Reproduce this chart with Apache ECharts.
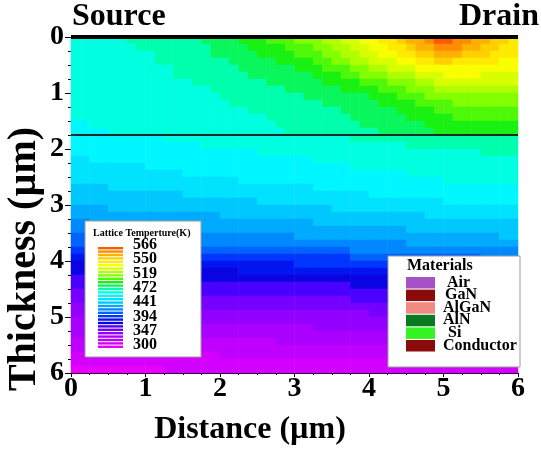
<!DOCTYPE html>
<html><head><meta charset="utf-8">
<script src="https://cdn.jsdelivr.net/npm/echarts@6/dist/echarts.min.js"></script>
<style>html,body{margin:0;padding:0;background:#fff}#chart{width:541px;height:454px}</style>
</head><body><div id="chart"></div>
<script>
// ---- GaN layer (0 – 1.75 µm): fine mesh, cell centres in µm ----
const layerDistance = [0.0625,0.1875,0.3125,0.4375,0.5625,0.6875,0.8125,0.9375,1.0625,1.1875,1.3125,1.4375,
  1.5625,1.6875,1.8125,1.9375,2.0625,2.1875,2.3125,2.4375,2.5625,2.6875,2.8125,2.9375,
  3.0625,3.1875,3.3125,3.4375,3.5625,3.6875,3.8125,3.9375,4.0625,4.1875,4.3125,4.4375,
  4.5625,4.6875,4.8125,4.9375,5.0625,5.1875,5.3125,5.4375,5.5625,5.6875,5.8125,5.9375];
const layerThickness = [0.0625,0.1875,0.3125,0.4375,0.5625,0.6875,0.8125,0.9375,1.0625,1.1875,1.3125,1.4375,1.5625,1.6875];
// Lattice temperature (K) in the GaN layer, one row per thickness
const layerTemp = [
  [447,447,448,448,449,450,451,452,452,454,454,456,457,459,461,463,465,467,470,472,475,478,480,484,487,491,495,499,503,507,512,516,520,524,528,532,543,548,554,561,562,557,551,546,541,537,533,529],
  [447,447,448,448,449,449,450,451,451,453,453,455,456,458,459,461,463,465,467,469,472,474,477,480,482,486,490,494,499,503,508,512,516,520,524,528,533,541,547,553,554,549,545,541,537,533,530,526],
  [446,446,447,447,448,448,449,450,450,452,452,454,455,457,458,460,461,463,465,467,469,471,473,476,478,482,485,489,494,498,502,506,511,515,518,522,526,531,538,543,543,540,536,533,531,529,526,524],
  [446,446,447,447,448,448,449,449,450,451,451,453,453,455,456,458,459,461,462,464,465,467,469,471,474,477,480,484,488,492,496,500,504,508,511,515,518,522,526,532,532,529,527,526,525,523,521,519],
  [445,445,446,446,447,447,448,448,449,450,450,452,452,454,454,456,457,459,460,462,462,464,465,467,470,473,476,479,482,486,490,494,497,501,504,508,510,514,517,520,520,521,520,520,518,517,516,514],
  [445,445,446,446,447,447,447,447,448,449,449,451,451,453,453,455,455,457,458,460,460,462,462,464,466,468,471,474,476,480,483,487,489,493,496,500,503,507,509,512,513,514,513,513,512,512,510,510],
  [444,444,445,445,446,446,447,447,447,448,448,449,450,451,451,453,453,455,456,458,458,460,460,462,463,465,467,469,472,474,477,480,482,486,489,492,495,498,501,504,505,506,507,507,506,506,505,505],
  [444,444,445,445,446,446,446,446,447,447,448,448,449,450,450,452,452,454,454,456,456,458,458,460,461,463,464,466,467,469,471,473,476,478,481,485,488,492,494,497,498,499,500,500,501,501,500,500],
  [443,443,444,444,445,445,445,445,446,446,447,447,448,449,449,450,451,452,452,454,454,456,456,458,458,460,461,463,464,466,466,468,470,472,476,478,481,484,488,490,492,493,494,494,495,495,495,495],
  [443,443,443,443,444,444,444,444,445,445,446,446,447,447,448,449,449,451,451,453,453,454,455,456,456,458,459,461,461,463,463,465,467,469,471,474,476,479,482,484,486,488,488,489,490,490,490,490],
  [442,442,443,443,443,443,444,444,444,444,445,445,446,446,447,447,448,449,449,451,451,453,453,455,455,457,457,459,459,461,461,463,464,466,468,470,472,474,477,479,481,483,483,484,485,485,486,486],
  [442,442,442,442,443,443,443,443,444,444,444,444,445,445,446,446,447,448,448,450,450,451,452,453,453,455,456,458,458,459,460,461,462,464,465,467,469,471,473,475,476,478,478,480,480,481,481,481],
  [441,441,442,442,442,442,443,443,443,443,444,444,444,444,445,446,446,448,448,449,450,450,451,452,452,454,454,456,456,458,458,460,460,462,463,465,466,468,470,472,473,475,476,476,477,477,477,477],
  [441,441,441,441,442,442,442,442,443,443,443,443,444,444,445,445,446,447,448,448,449,449,450,451,452,453,454,455,456,456,457,458,459,460,461,463,464,466,467,469,470,472,473,473,474,474,475,475]
];

// ---- Si substrate (1.75 – 6 µm): cell centres in µm ----
const substrateDistance = [0.125,0.375,0.625,0.875,1.125,1.375,1.625,1.875,2.125,2.375,2.625,2.875,
  3.125,3.375,3.625,3.875,4.125,4.375,4.625,4.875,5.125,5.375,5.625,5.875];
const substrateThickness = [1.8125,1.9375,2.0625,2.1875,2.3125,2.4375,2.5625,2.6875,2.8125,2.9375,
  3.0625,3.1875,3.3125,3.4375,3.5625,3.6875,3.8125,3.9375,4.0625,4.1875,4.3125,4.4375,
  4.5625,4.6875,4.8125,4.9375,5.0625,5.1875,5.3125,5.4375,5.5625,5.6875,5.8125,5.9375];
// Lattice temperature (K) in the substrate, one row per thickness
const substrateTemp = [
  [438,439,440,441,441,442,443,444,445,446,447,448,448,449,450,451,452,453,454,455,455,456,457,458],
  [436,437,438,438,439,440,441,442,443,443,444,445,446,447,448,448,449,450,451,452,453,453,454,455],
  [434,435,436,436,437,438,439,439,440,441,442,443,443,444,445,446,447,447,448,449,450,450,451,452],
  [432,433,434,434,435,436,437,437,438,439,440,441,441,442,443,444,445,445,446,447,448,448,449,450],
  [430,431,432,432,433,434,435,435,436,437,438,439,439,440,441,442,443,443,444,445,446,446,447,448],
  [428,429,430,430,431,432,433,433,434,435,436,437,437,438,439,440,441,441,442,443,444,444,445,446],
  [426,427,428,428,429,430,431,431,432,433,434,435,435,436,437,438,439,439,440,441,442,442,443,444],
  [423,424,425,425,426,427,428,428,429,430,431,432,432,433,434,435,436,436,437,438,439,439,440,441],
  [420,421,422,422,423,424,425,425,426,427,428,429,429,430,431,432,433,433,434,435,436,436,437,438],
  [417,418,419,419,420,421,422,422,423,424,425,426,426,427,428,429,430,430,431,432,433,433,434,435],
  [414,415,416,416,417,418,419,419,420,421,422,423,423,424,425,426,427,427,428,429,430,430,431,432],
  [410,411,412,412,413,414,415,415,416,417,418,419,419,420,421,422,423,423,424,425,426,426,427,428],
  [406,407,408,408,409,410,411,411,412,413,414,415,415,416,417,418,419,419,420,421,422,422,423,424],
  [401,402,403,403,404,405,406,407,408,408,409,410,411,412,413,413,414,415,416,417,418,418,419,420],
  [397,398,399,399,400,401,402,403,404,404,405,406,407,408,409,409,410,411,412,413,414,414,415,416],
  [392,393,394,394,395,396,397,398,399,399,400,401,402,403,404,404,405,406,407,408,409,409,410,411],
  [384,385,386,387,388,389,390,391,392,393,394,395,395,396,397,398,399,400,401,402,402,403,404,405],
  [372,373,374,375,376,378,380,381,382,383,384,385,386,387,388,389,390,392,394,395,396,397,398,399],
  [367,368,369,370,371,372,373,374,375,376,377,378,380,381,382,384,385,386,387,388,389,390,391,392],
  [363,364,365,366,366,367,368,369,370,371,372,373,373,374,375,376,377,378,379,380,381,382,383,384],
  [359,360,360,361,361,362,363,363,364,364,365,366,366,367,368,368,369,370,371,372,372,373,373,374],
  [355,356,356,357,357,358,358,359,359,360,360,361,361,362,362,363,363,364,364,365,365,366,366,367],
  [351,351,352,352,353,353,354,354,355,355,356,356,357,357,358,358,359,359,360,360,361,361,362,362],
  [347,347,348,348,349,349,350,350,350,351,351,352,352,353,353,354,354,354,355,355,356,356,357,357],
  [343,343,344,344,345,345,345,346,346,347,347,347,348,348,348,349,349,350,350,350,351,351,352,352],
  [339,339,340,340,340,341,341,341,342,342,342,343,343,344,344,344,345,345,345,346,346,346,347,347],
  [335,335,336,336,336,337,337,337,338,338,338,339,339,340,340,340,341,341,341,342,342,342,343,343],
  [331,331,332,332,332,333,333,333,334,334,334,335,335,336,336,336,337,337,337,338,338,338,339,339],
  [327,327,328,328,328,329,329,329,330,330,330,331,331,332,332,332,333,333,333,334,334,334,335,335],
  [323,323,324,324,324,325,325,325,326,326,326,327,327,328,328,328,329,329,329,330,330,330,331,331],
  [319,319,320,320,320,321,321,321,322,322,322,323,323,324,324,324,325,325,325,326,326,326,327,327],
  [315,315,316,316,316,317,317,317,318,318,318,319,319,320,320,320,321,321,321,322,322,322,323,323],
  [311,311,312,312,312,313,313,313,314,314,314,315,315,316,316,316,317,317,317,318,318,318,319,319],
  [307,307,308,308,308,309,309,309,310,310,310,311,311,312,312,312,313,313,313,314,314,314,315,315]
];

const tempTicks = [566, 550, 519, 472, 441, 394, 347, 300];
const tempMin = 300, tempMax = 566, bandCount = 30;

const materials = ['Air', 'GaN', 'AlGaN', 'AlN', 'Si', 'Conductor'];
const materialColors = ['#a652c6', '#8b0a0a', '#f28a84', '#0a7a22', '#33f522', '#8b0a0a'];

const surfaceDepth = 0;      // top contact line
const interfaceDepth = 1.75; // GaN / Si interface
const axisRange = [0, 6];

// Rainbow colour scale for the temperature bands
const colorStops = [
  [300,'#f200ff'],[310,'#dc00ff'],[320,'#c400ff'],[332,'#a800ff'],[344,'#8800ff'],[354,'#6000ff'],
  [362,'#3000ff'],[368,'#0004d8'],[380,'#0020ff'],[394,'#0068ff'],[410,'#00a8ff'],[426,'#00dcff'],
  [441,'#00ffff'],[456,'#00ffa8'],[472,'#12f012'],[490,'#80ff00'],[505,'#ccff00'],[519,'#ffff00'],
  [535,'#ffd000'],[550,'#ff9a00'],[566,'#ff4000']
];
function hexRgb(h){ return [parseInt(h.slice(1,3),16),parseInt(h.slice(3,5),16),parseInt(h.slice(5,7),16)]; }
function tempColor(v){
  if (v <= colorStops[0][0]) return colorStops[0][1];
  for (let k = 1; k < colorStops.length; k++) {
    const [v1, c1] = colorStops[k];
    if (v <= v1) {
      const [v0, c0] = colorStops[k-1];
      const t = (v - v0) / (v1 - v0);
      const a = hexRgb(c0), b = hexRgb(c1);
      return 'rgb(' + a.map((x,i)=>Math.round(x + (b[i]-x)*t)).join(',') + ')';
    }
  }
  return colorStops[colorStops.length-1][1];
}
const bandStep = (tempMax - tempMin) / bandCount;
const pieces = [];
for (let k = 0; k < bandCount; k++) {
  const lo = tempMin + k*bandStep, hi = lo + bandStep;
  pieces.push({ gte: k === 0 ? -Infinity : lo, lt: k === bandCount-1 ? Infinity : hi, color: tempColor(lo + bandStep/2) });
}

function toCells(rows){ const out = []; rows.forEach((row, j) => row.forEach((v, i) => out.push([i, j, v]))); return out; }

const FONT = '"Liberation Serif", "Times New Roman", serif';
const chart = echarts.init(document.getElementById('chart'), null, { renderer: 'canvas' });

// Plot rectangle (px) and the two material regions inside it
const P = { left: 71, top: 37, width: 447, height: 336 };
const span = axisRange[1] - axisRange[0];
const layerH = P.height * (interfaceDepth - axisRange[0]) / span;
const gridLayer = { left: P.left, top: P.top, width: P.width, height: layerH, outerBoundsMode: 'none' };
const gridSub = { left: P.left, top: P.top + layerH, width: P.width, height: P.height - layerH, outerBoundsMode: 'none' };
const gridAxes = Object.assign({ outerBoundsMode: 'none' }, P);

// Legend and title graphics
const els = [];
els.push({ type:'rect', shape:{ x:85, y:221, width:116, height:136 }, style:{ fill:'#fff', stroke:'#9a9a9a', lineWidth:1 }, z:10 });
els.push({ type:'text', x:93, y:233, style:{ text:'Lattice Temperture(K)', font:'bold 10px ' + FONT, fill:'#000', textVerticalAlign:'middle' }, z:11 });
const barTop = 247, barBottom = 349, pitch = (barBottom - barTop) / bandCount;
for (let k = 0; k < bandCount; k++) {
  els.push({ type:'rect', shape:{ x:98, y:barTop + k*pitch, width:25, height:pitch*0.7 },
    style:{ fill: pieces[bandCount-1-k].color }, z:11 });
}
tempTicks.forEach((t, k) => {
  els.push({ type:'text', x:133, y:245 + k*(100/7), style:{ text:String(t), font:'bold 16px ' + FONT, fill:'#000', textVerticalAlign:'middle' }, z:11 });
});

els.push({ type:'rect', shape:{ x:388, y:256, width:132, height:111 }, style:{ fill:'#fff', stroke:'#9a9a9a', lineWidth:1 }, z:10 });
els.push({ type:'text', x:407, y:266, style:{ text:'Materials', font:'bold 16px ' + FONT, fill:'#000', textVerticalAlign:'middle' }, z:11 });
const matLabelX = [447, 445, 443, 443, 448, 443];
materials.forEach((m, k) => {
  const y = 277 + k*12.6;
  els.push({ type:'rect', shape:{ x:406, y:y, width:29, height:11.5 }, style:{ fill: materialColors[k] }, z:11 });
  els.push({ type:'text', x:matLabelX[k], y:y + 5.5, style:{ text:m, font:'bold 16px ' + FONT, fill:'#000', textVerticalAlign:'middle' }, z:11 });
});

els.push({ type:'text', x:72, y:17, style:{ text:'Source', font:'bold 32px ' + FONT, fill:'#000', textVerticalAlign:'middle' }, z:11 });
els.push({ type:'text', x:539, y:17, style:{ text:'Drain', font:'bold 32px ' + FONT, fill:'#000', textAlign:'right', textVerticalAlign:'middle' }, z:11 });
els.push({ type:'text', x:250, y:430, style:{ text:'Distance (µm)', font:'bold 32px ' + FONT, fill:'#000', textAlign:'center', textVerticalAlign:'middle' }, z:11 });
els.push({ type:'text', x:25, y:259, rotation:Math.PI/2, style:{ text:'Thickness (µm)', font:'bold 40px ' + FONT, fill:'#000', textAlign:'center', textVerticalAlign:'middle' }, z:11 });

const labelStyle = { fontFamily: FONT, fontWeight: 'bold', fontSize: 28, color: '#000' };

chart.setOption({
  animation: false,
  backgroundColor: '#fff',
  grid: [gridLayer, gridSub, gridAxes],
  xAxis: [
    { type:'category', gridIndex:0, data:layerDistance, show:false },
    { type:'category', gridIndex:1, data:substrateDistance, show:false },
    { type:'value', gridIndex:2, min:axisRange[0], max:axisRange[1], interval:1,
      axisLine:{ show:true, onZero:false, lineStyle:{ color:'#000', width:1 } },
      axisTick:{ show:true, inside:false, length:4, lineStyle:{ color:'#000' } },
      minorTick:{ show:true, splitNumber:4, length:2, lineStyle:{ color:'#000' } },
      splitLine:{ show:false }, minorSplitLine:{ show:false },
      axisLabel: Object.assign({ margin:2 }, labelStyle) }
  ],
  yAxis: [
    { type:'category', gridIndex:0, data:layerThickness, inverse:true, show:false },
    { type:'category', gridIndex:1, data:substrateThickness, inverse:true, show:false },
    { type:'value', gridIndex:2, inverse:true, min:axisRange[0], max:axisRange[1], interval:1,
      axisLine:{ show:true, onZero:false, lineStyle:{ color:'#000', width:1 } },
      axisTick:{ show:true, inside:false, length:6, lineStyle:{ color:'#000' } },
      minorTick:{ show:true, splitNumber:4, length:3, lineStyle:{ color:'#000' } },
      splitLine:{ show:false }, minorSplitLine:{ show:false },
      axisLabel: Object.assign({ margin:7 }, labelStyle) }
  ],
  visualMap: { type:'piecewise', show:false, seriesIndex:[0, 1], dimension:2, pieces: pieces },
  series: [
    { name:'GaN', type:'heatmap', xAxisIndex:0, yAxisIndex:0, data:toCells(layerTemp), silent:true,
      itemStyle:{ borderWidth:0 }, emphasis:{ disabled:true }, progressive:0 },
    { name:'Si', type:'heatmap', xAxisIndex:1, yAxisIndex:1, data:toCells(substrateTemp), silent:true,
      itemStyle:{ borderWidth:0 }, emphasis:{ disabled:true }, progressive:0 },
    { type:'line', xAxisIndex:2, yAxisIndex:2, data:[[axisRange[0], surfaceDepth],[axisRange[1], surfaceDepth]],
      symbol:'none', clip:false, silent:true, lineStyle:{ color:'#000', width:4 }, z:5 },
    { type:'line', xAxisIndex:2, yAxisIndex:2, data:[[axisRange[0], interfaceDepth],[axisRange[1], interfaceDepth]],
      symbol:'none', clip:false, silent:true, lineStyle:{ color:'#1c2a2a', width:2 }, z:5 }
  ],
  graphic: { elements: els }
});
</script></body></html>
